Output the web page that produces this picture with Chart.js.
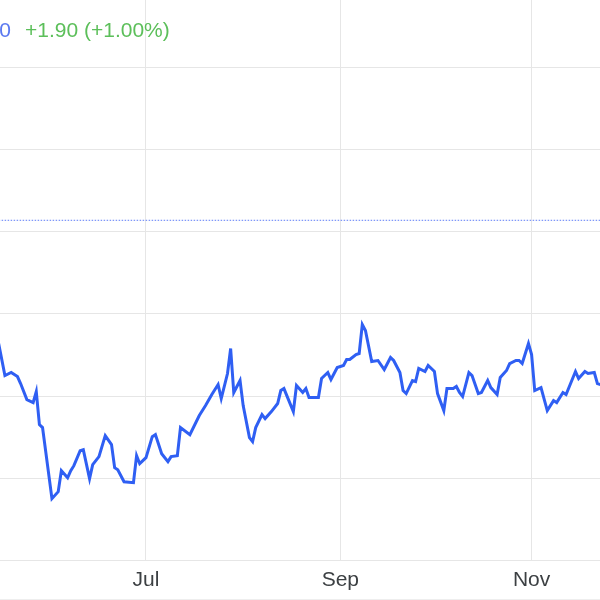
<!DOCTYPE html>
<html>
<head>
<meta charset="utf-8">
<script src="https://cdn.jsdelivr.net/npm/chart.js@4/dist/chart.umd.min.js"></script>
<style>
  body { margin:0; background:#fff; }
  #wrap { position:relative; width:600px; height:600px; overflow:hidden; }
  #chart { position:absolute; left:0; top:0; }
  .hdr { position:absolute; top:17px; font-family:Arial,"Liberation Sans",sans-serif; font-size:21px; line-height:26px; white-space:nowrap; }
  #price { right:589px; color:#5b79f0; }
  #change { left:25px; color:#5cbf5a; }
  #foot { position:absolute; left:0; top:599px; width:600px; height:1px; background:#eeeeee; }
</style>
</head>
<body>
<div id="wrap">
  <canvas id="chart" width="600" height="600"></canvas>
  <div class="hdr" id="price">191.90</div>
  <div class="hdr" id="change">+1.90 (+1.00%)</div>
  <div id="foot"></div>
</div>
<script>
const dates = [
  '2023-05-15','2023-05-17','2023-05-19','2023-05-21','2023-05-22','2023-05-24','2023-05-26','2023-05-27','2023-05-28','2023-05-29',
  '2023-06-01','2023-06-03','2023-06-04','2023-06-06','2023-06-07','2023-06-08','2023-06-10','2023-06-11','2023-06-13','2023-06-14',
  '2023-06-16','2023-06-18','2023-06-20','2023-06-21','2023-06-22','2023-06-24','2023-06-27','2023-06-28','2023-06-29','2023-07-01',
  '2023-07-03','2023-07-04','2023-07-06','2023-07-08','2023-07-09','2023-07-11','2023-07-12','2023-07-15','2023-07-18','2023-07-20',
  '2023-07-22','2023-07-24','2023-07-25','2023-07-27','2023-07-28','2023-07-29','2023-07-31','2023-08-01','2023-08-03','2023-08-04',
  '2023-08-05','2023-08-07','2023-08-08','2023-08-10','2023-08-12','2023-08-13','2023-08-14','2023-08-17','2023-08-18','2023-08-20',
  '2023-08-21','2023-08-22','2023-08-25','2023-08-26','2023-08-28','2023-08-29','2023-08-31','2023-09-02','2023-09-03','2023-09-04',
  '2023-09-06','2023-09-07','2023-09-08','2023-09-09','2023-09-11','2023-09-13','2023-09-15','2023-09-17','2023-09-18','2023-09-20',
  '2023-09-21','2023-09-22','2023-09-24','2023-09-25','2023-09-26','2023-09-28','2023-09-29','2023-10-01','2023-10-02','2023-10-04',
  '2023-10-05','2023-10-07','2023-10-08','2023-10-09','2023-10-10','2023-10-12','2023-10-13','2023-10-15','2023-10-16','2023-10-18',
  '2023-10-19','2023-10-21','2023-10-22','2023-10-24','2023-10-25','2023-10-27','2023-10-28','2023-10-29','2023-10-31','2023-11-01',
  '2023-11-02','2023-11-04','2023-11-06','2023-11-08','2023-11-09','2023-11-11','2023-11-12','2023-11-15','2023-11-16','2023-11-18',
  '2023-11-19','2023-11-21','2023-11-22','2023-11-23'
];
const prices = [
  186.41,182.51,182.88,182.39,181.54,179.59,179.23,180.57,176.55,176.19,
  167.55,168.40,170.95,170.10,170.95,171.56,173.39,173.51,169.98,171.68,
  172.66,175.21,174.12,171.32,171.07,169.61,169.49,172.78,171.80,172.54,
  175.09,175.33,173.02,172.05,172.66,172.78,176.19,175.33,177.65,178.86,
  180.20,181.42,179.72,182.76,185.80,180.45,181.91,178.86,174.97,174.48,
  176.19,177.77,177.28,178.13,179.11,180.69,180.93,178.13,181.30,180.45,
  180.93,179.84,179.84,182.15,182.88,182.03,183.49,183.73,184.46,184.46,
  185.07,185.19,188.72,187.99,184.22,184.34,183.24,184.70,184.34,182.88,
  180.69,180.32,181.91,181.78,183.37,183.00,183.73,183.00,180.32,178.25,
  180.93,180.93,181.18,180.45,179.96,182.88,182.51,180.32,180.45,181.91,
  181.05,180.20,182.27,183.12,183.97,184.34,184.34,183.97,186.41,185.07,
  180.69,181.05,178.25,179.47,179.23,180.45,180.20,183.00,182.15,183.00,
  182.76,182.88,181.54,181.42
];
const prevClose = 201.38;
const monthTickDates = ['2023-07-01','2023-09-01','2023-11-01'];
const monthLabels = ['Jul','Sep','Nov'];
const priceTicks = [160,170,180,190,200,210,220];

// days counted from Jul 1 so the linear x axis keeps calendar spacing
const base = Date.UTC(2023,6,1);
function dayNum(s){
  const p = s.split('-').map(Number);
  return Math.round((Date.UTC(p[0],p[1]-1,p[2]) - base)/86400000);
}
const series = dates.map((d,i)=>({x:dayNum(d), y:prices[i]}));
const monthTicks = monthTickDates.map(dayNum);

const gridColor = '#e6e6e6';

new Chart(document.getElementById('chart').getContext('2d'), {
  type:'line',
  data:{
    datasets:[
      { data:series, borderColor:'#2f5ff3', borderWidth:3, pointRadius:0, tension:0, fill:false },
      { data:[{x:-47,y:prevClose},{x:146,y:prevClose}], borderColor:'#5d7cf6', borderWidth:1, borderDash:[1.5,1.5], pointRadius:0, fill:false }
    ]
  },
  options:{
    responsive:false,
    animation:false,
    layout:{ padding:{ left:0, right:0, top:0, bottom:0 } },
    plugins:{ legend:{display:false}, tooltip:{enabled:false} },
    scales:{
      x:{
        type:'linear',
        min:-46.57, max:144.82,
        afterBuildTicks: axis => { axis.ticks = monthTicks.map(v=>({value:v})); },
        grid:{ color:gridColor, drawTicks:false },
        border:{ color:gridColor },
        ticks:{
          autoSkip:false, maxRotation:0, padding:7, color:'#3c4043',
          font:{ family:'Arial, "Liberation Sans", sans-serif', size:21 },
          callback: v => { const i = monthTicks.indexOf(v); return i>=0 ? monthLabels[i] : ''; }
        }
      },
      y:{
        position:'right',
        min:160, max:228.15,
        afterBuildTicks: axis => { axis.ticks = priceTicks.map(v=>({value:v})); },
        grid:{ color:gridColor, drawTicks:false },
        border:{ display:false },
        ticks:{ display:false }
      }
    }
  }
});
</script>
</body>
</html>
